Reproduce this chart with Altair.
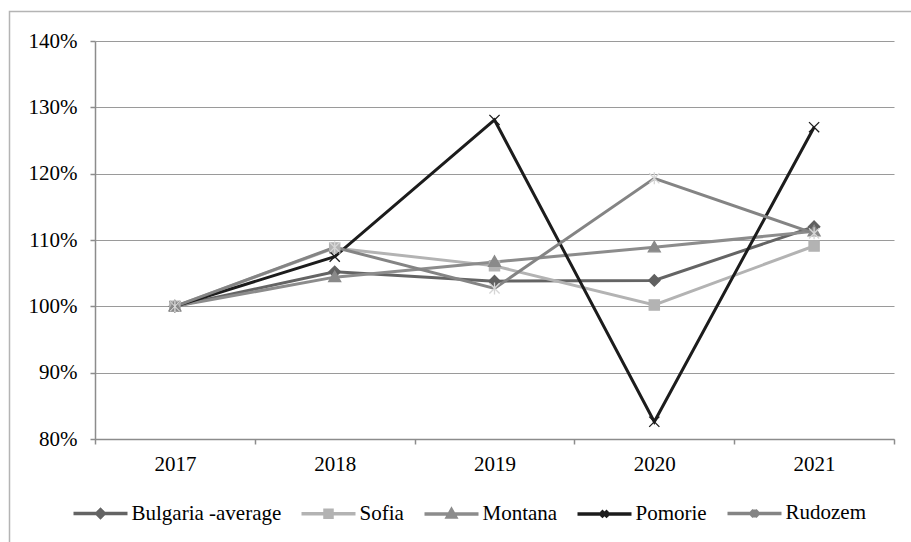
import altair as alt
import pandas as pd

# Index of average values, 2017 = 100%
years = ["2017", "2018", "2019", "2020", "2021"]
series = ["Bulgaria -average", "Sofia", "Montana", "Pomorie", "Rudozem"]
bulgaria = [1.000, 1.052, 1.038, 1.039, 1.120]
sofia = [1.000, 1.088, 1.061, 1.002, 1.091]
montana = [1.000, 1.044, 1.067, 1.089, 1.113]
pomorie = [1.000, 1.075, 1.281, 0.826, 1.270]
rudozem = [1.000, 1.089, 1.027, 1.193, 1.110]

line_colors = ["#646464", "#b3b3b3", "#8c8c8c", "#1c1c1c", "#848484"]
marker_fill = ["#606060", "#b3b3b3", "#8a8a8a", "#1c1c1c", "#d6d6d6"]
marker_stroke = ["#606060", "#b3b3b3", "#8a8a8a", "#1c1c1c", "#d6d6d6"]

# Marker glyphs (unit coordinates, scaled by the symbol size)
marker_paths = [
    "M0,-0.95L0.95,0L0,0.95L-0.95,0Z",
    "M-0.85,-0.85L0.85,-0.85L0.85,0.85L-0.85,0.85Z",
    "M0,-1L1,0.75L-1,0.75Z",
    "M-0.85,-0.85L0.85,0.85M-0.85,0.85L0.85,-0.85",
    "M-0.85,-0.85L0.85,0.85M-0.85,0.85L0.85,-0.85M0,-1L0,1",
]
# Legend glyphs: a line segment with the marker in its middle
legend_paths = [
    "M-1,0L1,0M0,-0.14L0.14,0L0,0.14L-0.14,0Z",
    "M-1,0L1,0M-0.13,-0.13L0.13,-0.13L0.13,0.13L-0.13,0.13Z",
    "M-1,0L1,0M0,-0.15L0.15,0.12L-0.15,0.12Z",
    "M-1,0L1,0M-0.12,-0.12L0.12,0.12M-0.12,0.12L0.12,-0.12",
    "M-1,0L1,0M-0.12,-0.12L0.12,0.12M-0.12,0.12L0.12,-0.12M0,-0.15L0,0.15",
]

values = [bulgaria, sofia, montana, pomorie, rudozem]
rows = []
for name, vals in zip(series, values):
    for yr, v in zip(years, vals):
        rows.append({"year": yr, "series": name, "value": v})
df = pd.DataFrame(rows)

font = "Liberation Serif"

x_enc = alt.X(
    "year:O",
    scale=alt.Scale(type="band", paddingInner=0, paddingOuter=0),
    bandPosition=0.5,
    axis=alt.Axis(title=None, labelAngle=0, grid=False, tickBand="extent",
                  labelPadding=9),
)
y_enc = alt.Y(
    "value:Q",
    scale=alt.Scale(domain=[0.8, 1.4], nice=False, zero=False),
    axis=alt.Axis(title=None, format=".0%", values=[0.8, 0.9, 1.0, 1.1, 1.2, 1.3, 1.4],
                  grid=True, labelPadding=13),
)

base = alt.Chart(df)

lines = base.mark_line(strokeWidth=3).encode(
    x=x_enc,
    y=y_enc,
    color=alt.Color("series:N", scale=alt.Scale(domain=series, range=line_colors), legend=None),
)

points = base.mark_point(filled=True, size=144, strokeWidth=1.3, opacity=1).encode(
    x=x_enc,
    y=y_enc,
    fill=alt.Fill("series:N", scale=alt.Scale(domain=series, range=marker_fill), legend=None),
    stroke=alt.Stroke("series:N", scale=alt.Scale(domain=series, range=marker_stroke), legend=None),
    shape=alt.Shape("series:N", scale=alt.Scale(domain=series, range=marker_paths), legend=None),
)

legend_def = alt.Legend(
    title=None,
    orient="none",
    direction="horizontal",
    columns=5,
    legendX=-23.5,
    legendY=443,
    padding=0,
    symbolSize=2916,
    symbolStrokeWidth=3.5,
    symbolOpacity=1,
    labelFont=font,
    labelFontSize=21,
    labelColor="black",
    labelOffset=2,
    columnPadding=13,
)

legend_layer = base.mark_point(filled=True, opacity=0, strokeWidth=3.5).encode(
    x=x_enc,
    y=y_enc,
    fill=alt.Fill("series:N", scale=alt.Scale(domain=series, range=line_colors), legend=legend_def),
    stroke=alt.Stroke("series:N", scale=alt.Scale(domain=series, range=line_colors), legend=legend_def),
    shape=alt.Shape("series:N", scale=alt.Scale(domain=series, range=legend_paths), legend=legend_def),
)

frame = alt.Chart(pd.DataFrame({"k": [0]})).mark_rect(
    fillOpacity=0, stroke="#b4b4b4", strokeWidth=1.5
).encode(
    x=alt.value(-85.5), x2=alt.value(1000), y=alt.value(-29.5), y2=alt.value(700)
)

chart = (
    alt.layer(frame, lines, points, legend_layer)
    .resolve_scale(fill="independent", stroke="independent", shape="independent")
    .properties(
        width=799,
        height=398,
        autosize=alt.AutoSizeParams(type="none"),
        padding={"left": 95, "top": 41, "right": 17, "bottom": 103},
        background="white",
    )
    .configure_view(strokeWidth=0)
    .configure_axis(
        domainColor="#8c8c8c",
        domainWidth=1.5,
        tickColor="#8c8c8c",
        tickWidth=1.5,
        tickSize=5,
        gridColor="#9a9a9a",
        gridWidth=1.2,
        labelFont=font,
        labelFontSize=21,
        labelColor="black",
    )
)

chart.save("out.html", embed_options={"renderer": "svg", "actions": False})
